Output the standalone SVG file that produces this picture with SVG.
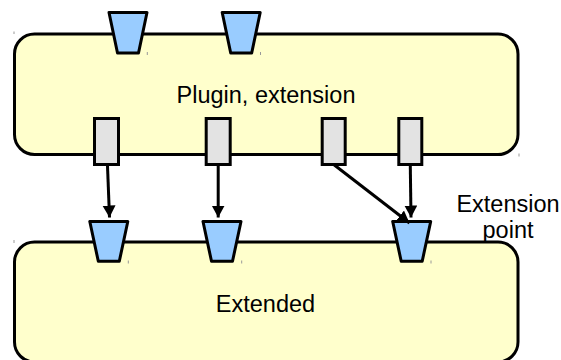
<svg xmlns="http://www.w3.org/2000/svg" width="561" height="360" viewBox="0 0 561 360">
  <style>
    .box { fill: #ffffcc; stroke: #000; stroke-width: 3; }
    .port { fill: #99ccff; stroke: #000; stroke-width: 3; stroke-linejoin: round; }
    .plug { fill: #e3e3e3; stroke: #000; stroke-width: 3; }
    .conn { stroke: #000; stroke-width: 3; fill: none; }
    .tick { stroke: #999; stroke-width: 1; }
    text { font-family: "Liberation Sans", Arial, sans-serif; font-size: 23.5px; fill: #000; }
  </style>
  <defs>
    <marker id="arrow" markerUnits="userSpaceOnUse" markerWidth="13" markerHeight="14" refX="12" refY="6.5" orient="auto">
      <path d="M0,0 L12,6.5 L0,13 z" fill="#000"/>
    </marker>
  </defs>

  <g id="extended">
    <rect class="box" x="14.5" y="242" width="503.5" height="120" rx="20" ry="20"/>
    <text x="265.5" y="311.5" text-anchor="middle">Extended</text>
  </g>

  <g id="plugin">
    <rect class="box" x="14.5" y="34" width="503.5" height="120.5" rx="20" ry="20"/>
    <text x="266" y="103.3" text-anchor="middle">Plugin, extension</text>
  </g>

  <g id="plugin-ports">
    <polygon class="port" points="109,12.5 147,12.5 138.5,53 117.5,53"/>
    <polygon class="port" points="222.2,12.5 260.2,12.5 251.7,53 230.7,53"/>
  </g>

  <g id="plugin-extensions">
    <rect class="plug" x="94.5" y="118.5" width="24" height="46"/>
    <rect class="plug" x="206.2" y="118.5" width="24" height="46"/>
    <rect class="plug" x="322.2" y="118.5" width="23" height="46"/>
    <rect class="plug" x="398.8" y="118.5" width="23" height="46"/>
  </g>

  <g id="extension-points">
    <polygon class="port" points="89.8,221.5 127.8,221.5 119.3,261.3 98.3,261.3"/>
    <polygon class="port" points="203,221.5 241,221.5 232.5,261.3 211.5,261.3"/>
    <polygon class="port" points="392.7,221.5 430.7,221.5 422.2,261.3 401.2,261.3"/>
  </g>

  <g id="connectors">
    <line class="conn" x1="107.5" y1="166" x2="109.5" y2="217.5" marker-end="url(#arrow)"/>
    <line class="conn" x1="218.2" y1="166" x2="218.2" y2="217.5" marker-end="url(#arrow)"/>
    <line class="conn" x1="333.7" y1="164.5" x2="409.5" y2="223" marker-end="url(#arrow)"/>
    <line class="conn" x1="410.3" y1="166" x2="411" y2="217.5" marker-end="url(#arrow)"/>
  </g>

  <g id="label">
    <text x="508" y="212.3" text-anchor="middle">Extension</text>
    <text x="508" y="238" text-anchor="middle">point</text>
  </g>

  <g id="ticks">
    <line class="tick" x1="14" y1="31.5" x2="14" y2="34"/>
    <line class="tick" x1="147.3" y1="52" x2="147.3" y2="55"/>
    <line class="tick" x1="260.5" y1="52" x2="260.5" y2="55"/>
    <line class="tick" x1="519" y1="153.5" x2="519" y2="156.5"/>
    <line class="tick" x1="14" y1="240" x2="14" y2="243"/>
    <line class="tick" x1="128.3" y1="260.5" x2="128.3" y2="263.5"/>
    <line class="tick" x1="241.7" y1="260.5" x2="241.7" y2="263.5"/>
    <line class="tick" x1="431" y1="260.5" x2="431" y2="263.5"/>
  </g>
</svg>
